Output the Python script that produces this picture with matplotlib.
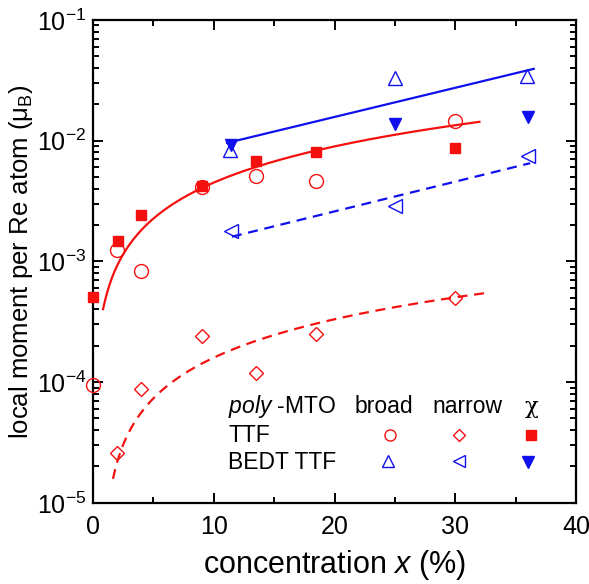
import numpy as np
import matplotlib
matplotlib.use("Agg")
import matplotlib.pyplot as plt
from matplotlib.ticker import LogLocator, MultipleLocator, NullFormatter

plt.rcParams['font.family'] = ['Liberation Sans', 'DejaVu Sans']
plt.rcParams['mathtext.fontset'] = 'custom'
plt.rcParams['mathtext.rm'] = 'Liberation Sans'
plt.rcParams['mathtext.it'] = 'Liberation Sans:italic'
plt.rcParams['mathtext.default'] = 'regular'

# ---- data (concentration x in %, local moment in mu_B) ----
ttf_x = [0, 2, 4, 9, 13.5, 18.5, 30]
ttf_broad = [9.5e-5, 1.24e-3, 8.3e-4, 4.1e-3, 5.1e-3, 4.6e-3, 1.46e-2]
ttf_chi_x = [0, 2.1, 4, 9, 13.5, 18.5, 30]
ttf_chi = [5.1e-4, 1.48e-3, 2.4e-3, 4.2e-3, 6.8e-3, 8.1e-3, 8.7e-3]
ttf_narrow_x = [2, 4, 9, 13.5, 18.5, 30]
ttf_narrow = [2.6e-5, 8.8e-5, 2.4e-4, 1.2e-4, 2.5e-4, 5.0e-4]

bedt_x = [11.3, 25, 35.9]
bedt_broad = [8.4e-3, 3.3e-2, 3.4e-2]
bedt_chi_x = [11.4, 25, 36]
bedt_chi = [9.2e-3, 1.38e-2, 1.58e-2]
bedt_narrow_x = [11.4, 25, 36]
bedt_narrow = [1.8e-3, 2.9e-3, 7.4e-3]

# fit lines: red are linear fits y = a*x + b, blue are straight on log scale
ttf_fit_broad = dict(a=4.46e-4, b=3.2e-5, x0=0.83, x1=32.0)
ttf_fit_narrow = dict(a=1.72e-5, b=-1.26e-5, x0=1.65, x1=32.7)
bedt_fit_broad_x = [11.1, 36.5]
bedt_fit_broad_y = [9.57e-3, 3.93e-2]
bedt_fit_narrow_x = [11.5, 36.2]
bedt_fit_narrow_y = [1.6e-3, 6.5e-3]

RED = '#f51010'
BLUE = '#1010ee'

fig = plt.figure(figsize=(5.89, 5.84), dpi=100)
ax = fig.add_axes([0.158, 0.139, 0.820, 0.827])
ax.set_yscale('log')
ax.set_xlim(0, 40)
ax.set_ylim(1e-5, 1e-1)

# fits
for f, ls in ((ttf_fit_broad, '-'), (ttf_fit_narrow, (0, (4.5, 3)))):
    xx = np.linspace(f['x0'], f['x1'], 200)
    ax.plot(xx, f['a'] * xx + f['b'], color=RED, lw=1.6, ls=ls, zorder=2)
ax.plot(bedt_fit_broad_x, bedt_fit_broad_y, color=BLUE, lw=1.6, zorder=2)
ax.plot(bedt_fit_narrow_x, bedt_fit_narrow_y, color=BLUE, lw=1.6, ls=(0, (4.5, 3)), zorder=2)

# points
open_kw = dict(ls='none', mfc='none', mew=1.0, zorder=3, clip_on=False)
ax.plot(ttf_x, ttf_broad, marker='o', ms=10, mec=RED, **open_kw)
ax.plot(ttf_narrow_x, ttf_narrow, marker='D', ms=7.5, mec=RED, **open_kw)
ax.plot(ttf_chi_x, ttf_chi, marker='s', ms=7, ls='none', color=RED, zorder=4, clip_on=False)
ax.plot(bedt_x, bedt_broad, marker='^', ms=10, mec=BLUE, **open_kw)
ax.plot(bedt_narrow_x, bedt_narrow, marker='<', ms=10, mec=BLUE, **open_kw)
ax.plot(bedt_chi_x, bedt_chi, marker='v', ms=9, ls='none', color=BLUE, zorder=4, clip_on=False)

# legend block (manual)
tr = ax.transAxes
fs = 16.5
ax.text(0.280, 0.199, r'$\mathit{poly}$ -MTO', transform=tr, fontsize=fs, va='center', ha='left')
ax.text(0.542, 0.199, 'broad', transform=tr, fontsize=fs, va='center', ha='left')
ax.text(0.702, 0.199, 'narrow', transform=tr, fontsize=fs, va='center', ha='left')
ax.text(0.909, 0.199, 'χ', transform=tr, fontsize=fs, va='center', ha='center', family=['DejaVu Serif'])
ax.text(0.280, 0.139, 'TTF', transform=tr, fontsize=fs, va='center', ha='left')
ax.text(0.280, 0.083, 'BEDT TTF', transform=tr, fontsize=fs, va='center', ha='left')
ax.plot([0.615], [0.141], transform=tr, marker='o', ms=8, mec=RED, mfc='none', mew=1.0)
ax.plot([0.757], [0.141], transform=tr, marker='D', ms=6.5, mec=RED, mfc='none', mew=1.0)
ax.plot([0.906], [0.141], transform=tr, marker='s', ms=6.5, color=RED)
ax.plot([0.611], [0.086], transform=tr, marker='^', ms=8, mec=BLUE, mfc='none', mew=1.0)
ax.plot([0.757], [0.086], transform=tr, marker='<', ms=8, mec=BLUE, mfc='none', mew=1.0)
ax.plot([0.900], [0.084], transform=tr, marker='v', ms=8, color=BLUE)

# axes styling
for s in ax.spines.values():
    s.set_linewidth(1.6)
ax.xaxis.set_major_locator(MultipleLocator(10))
ax.xaxis.set_minor_locator(MultipleLocator(5))
ax.yaxis.set_major_locator(LogLocator(base=10, numticks=10))
ax.yaxis.set_minor_locator(LogLocator(base=10, subs=np.arange(2, 10), numticks=10))
ax.yaxis.set_minor_formatter(NullFormatter())
ax.tick_params(which='both', direction='in', top=True, right=True, width=1.4, labelsize=18)
ax.tick_params(axis='x', which='major', length=7, pad=9)
ax.tick_params(axis='y', which='major', length=7, pad=5)
ax.tick_params(which='minor', length=4)

ax.set_xlabel(r'concentration $\mathit{x}$ (%)', fontsize=22, labelpad=6)
ax.set_ylabel(r'local moment per Re atom (μ$_\mathrm{B}$)', fontsize=18.5, labelpad=1)

fig.savefig('out.png', dpi=100)
